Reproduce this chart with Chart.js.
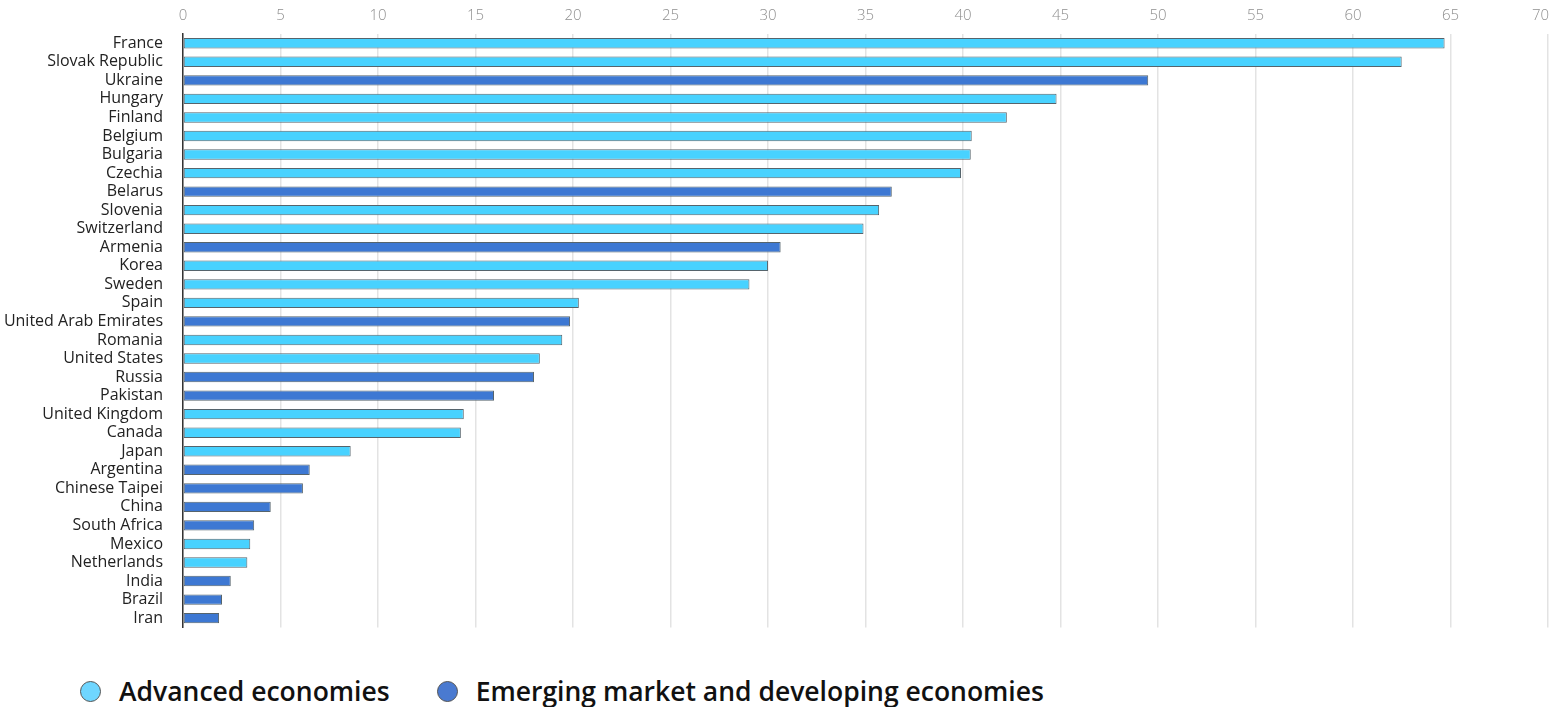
<!DOCTYPE html>
<html>
<head>
<meta charset="utf-8">
<script src="https://cdn.jsdelivr.net/npm/chart.js@4"></script>
<style>
  body { margin: 0; background: #fff; overflow: hidden; }
  #wrap { position: relative; width: 1573px; height: 651px; margin-top: -2px; }
  #legend { position: absolute; left: 80px; top: 672px; display: flex; font-family: "Open Sans", sans-serif; font-weight: 600; font-size: 26.5px; line-height: 38px; color: #111; }
  .item { display: flex; align-items: center; margin-right: 47px; }
  .dot { width: 19px; height: 19px; border-radius: 50%; border: 1.5px solid #555; margin-right: 18px; }
</style>
</head>
<body>
<div id="wrap"><canvas id="chart"></canvas></div>
<div id="legend"></div>
<script>
// Country list, top to bottom
var countries = ["France", "Slovak Republic", "Ukraine", "Hungary", "Finland", "Belgium", "Bulgaria", "Czechia",
  "Belarus", "Slovenia", "Switzerland", "Armenia", "Korea", "Sweden", "Spain", "United Arab Emirates",
  "Romania", "United States", "Russia", "Pakistan", "United Kingdom", "Canada", "Japan", "Argentina",
  "Chinese Taipei", "China", "South Africa", "Mexico", "Netherlands", "India", "Brazil", "Iran"];
var values = [64.7, 62.5, 49.5, 44.8, 42.25, 40.45, 40.4, 39.9, 36.35, 35.7, 34.9, 30.65, 30.0, 29.05, 20.3, 19.85,
  19.45, 18.3, 18.0, 15.95, 14.4, 14.25, 8.6, 6.5, 6.15, 4.5, 3.65, 3.45, 3.3, 2.45, 2.0, 1.85];
// A = advanced economies, E = emerging market and developing economies
var groups = ["A", "A", "E", "A", "A", "A", "A", "A", "E", "A", "A", "E", "A", "A", "A", "E",
  "A", "A", "E", "E", "A", "A", "A", "E", "E", "E", "E", "A", "A", "E", "E", "E"];
var legendLabels = ["Advanced economies", "Emerging market and developing economies"];
var xTicks = [0, 5, 10, 15, 20, 25, 30, 35, 40, 45, 50, 55, 60, 65, 70];

var advColor = "#48d2ff";
var emColor = "#3d78d3";

window.onload = function() {
  var ctx = document.getElementById("chart").getContext("2d");
  var colors = groups.map(function(g) { return g === "A" ? advColor : emColor; });

  new Chart(ctx, {
    type: "bar",
    data: {
      labels: countries,
      datasets: [{
        data: values,
        backgroundColor: colors,
        borderColor: "#56646c",
        borderWidth: 1,
        borderSkipped: false,
        barPercentage: 0.56,
        categoryPercentage: 1
      }]
    },
    options: {
      indexAxis: "y",
      responsive: true,
      maintainAspectRatio: false,
      animation: false,
      layout: { padding: { top: 0, bottom: 0, right: 0 } },
      plugins: { legend: { display: false }, tooltip: { enabled: false } },
      scales: {
        x: {
          position: "top",
          min: 0,
          max: 70,
          afterBuildTicks: function(axis) {
            axis.ticks = xTicks.map(function(v) { return { value: v }; });
          },
          border: { display: false },
          grid: { color: "#e3e3e3", lineWidth: 1.5, drawTicks: false },
          ticks: {
            color: "#8f8f8f", padding: 9, font: { family: "Open Sans", size: 15, weight: 300 },
            // last label sits inside the right edge
            callback: function(v) { return v === 70 ? "70\u2003" : v; }
          }
        },
        y: {
          border: { display: true, color: "#333", width: 1.5 },
          grid: { display: false },
          afterFit: function(scale) { scale.width = 183; },
          ticks: { color: "#222", padding: 12, autoSkip: false, font: { family: "Open Sans", size: 16 } }
        }
      }
    }
  });

  // Legend built from the same labels and colours
  var legend = document.getElementById("legend");
  [advColor, emColor].forEach(function(c, i) {
    var item = document.createElement("div");
    item.className = "item";
    var dot = document.createElement("span");
    dot.className = "dot";
    dot.style.background = i === 0 ? "#6fd6ff" : "#4a7ad0";
    var txt = document.createElement("span");
    txt.textContent = legendLabels[i];
    item.appendChild(dot);
    item.appendChild(txt);
    legend.appendChild(item);
  });
};
</script>
</body>
</html>
